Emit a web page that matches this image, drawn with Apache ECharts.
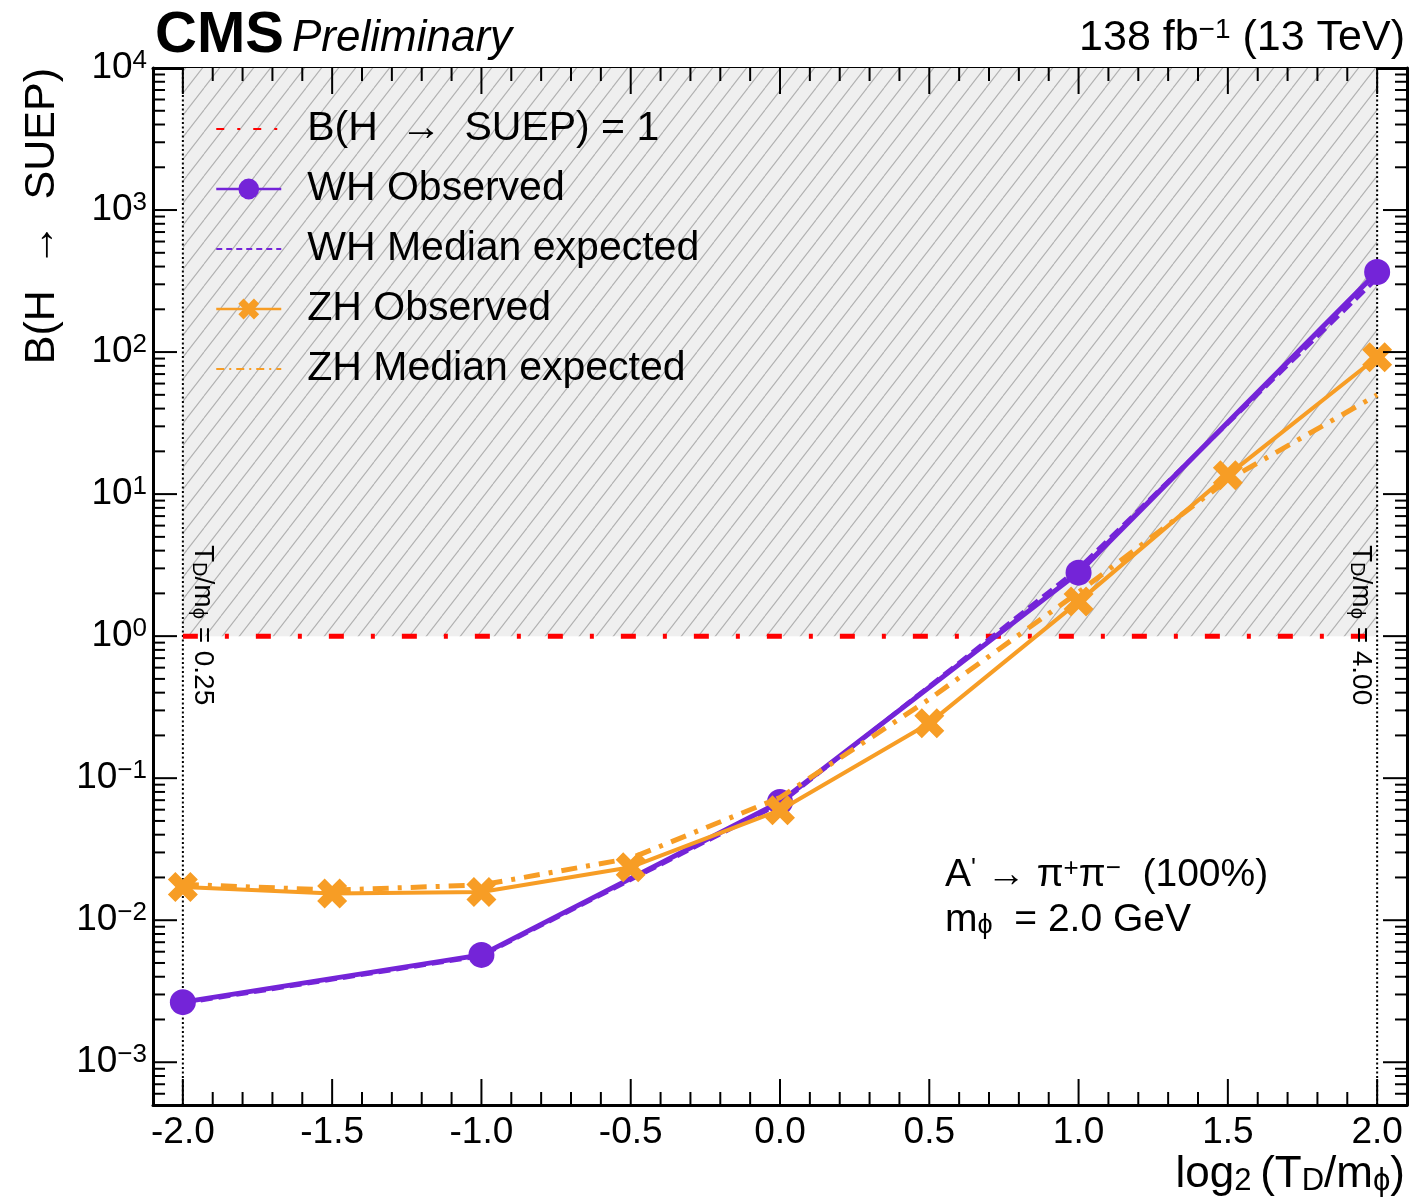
<!DOCTYPE html>
<html><head><meta charset="utf-8">
<script src="https://cdn.jsdelivr.net/npm/echarts@6/dist/echarts.min.js"></script>
<style>html,body{margin:0;padding:0;background:#fff}#c{width:1409px;height:1202px}</style>
</head><body><div id="c"></div>
<script>
// ---------------- data ----------------
const seriesNames = ['B(H  \u2192  SUEP) = 1', 'WH Observed', 'WH Median expected', 'ZH Observed', 'ZH Median expected'];
const xWH = [-2.0, -1.0, 0.0, 1.0, 2.0];
const whObserved = [0.00265, 0.0057, 0.068, 2.8, 366];
const whExpected = [0.0026, 0.0056, 0.066, 3.0, 330];
const xZH = [-2.0, -1.5, -1.0, -0.5, 0.0, 0.5, 1.0, 1.5, 2.0];
const zhObserved = [0.0171, 0.0154, 0.0158, 0.0236, 0.0595, 0.244, 1.75, 13.6, 92];
const zhExpected = [0.0179, 0.0163, 0.0177, 0.0273, 0.073, 0.36, 2.04, 12.6, 50];
const unitLineX = [-2.0, 2.0];
const unitLineY = [1, 1];
const excludedBand = [[-2.0, 2.0, 1, 10000]];   // x0, x1, y0, y1
const boundaryX = [-2.0, 2.0];
const xTickLabels = [-2.0, -1.5, -1.0, -0.5, 0.0, 0.5, 1.0, 1.5, 2.0];
const yTickExponents = [-3, -2, -1, 0, 1, 2, 3, 4];
const xRange = [-2.1, 2.1];
const yRange = [5e-4, 1e4];

// ---------------- style ----------------
const FONT = '"Liberation Sans", Arial, Helvetica, sans-serif';
const PURPLE = '#7424d8';
const ORANGE = '#f79d25';
const XMARK = 'path://M0,2.5 L2.5,0 L5,2.5 L7.5,0 L10,2.5 L7.5,5 L10,7.5 L7.5,10 L5,7.5 L2.5,10 L0,7.5 L2.5,5 Z';
const HIDDEN = { color: 'rgba(0,0,0,0)', opacity: 0, borderWidth: 0 };

const hatch = (function () {
  const w = 17, h = 22;
  const c = document.createElement('canvas'); c.width = w; c.height = h;
  const g = c.getContext('2d');
  g.fillStyle = '#efefef'; g.fillRect(0, 0, w, h);
  g.strokeStyle = '#b0b0b0'; g.lineWidth = 1.1;
  for (let k = -1; k <= 1; k++) { g.beginPath(); g.moveTo(k * w, h); g.lineTo(k * w + w, 0); g.stroke(); }
  return c;
})();

// tick positions (derived from tick labels)
const xTicks = [];
for (let i = Math.round(xRange[0] * 10); i <= Math.round(xRange[1] * 10); i++) {
  const v = i / 10;
  xTicks.push({ v: v, major: xTickLabels.some(t => Math.abs(t - v) < 1e-9) });
}
const yTicks = [];
for (let e = yTickExponents[0] - 1; e <= yTickExponents[yTickExponents.length - 1]; e++) {
  for (let k = 1; k <= 9; k++) {
    const v = k * Math.pow(10, e);
    if (v >= yRange[0] * 0.999 && v <= yRange[1] * 1.001) yTicks.push({ v: v, major: k === 1 });
  }
}

const chart = echarts.init(document.getElementById('c'), null, { renderer: 'canvas' });

function pairs(xs, ys) { return xs.map((x, i) => [x, ys[i]]); }

const option = {
  animation: false,
  backgroundColor: '#fff',
  grid: { left: 153, top: 68, width: 1254, height: 1037, containLabel: false, outerBoundsMode: 'none' },
  xAxis: [
    {
      type: 'value', min: xRange[0], max: xRange[1], interval: 0.1, position: 'bottom',
      axisLine: { onZero: false, lineStyle: { color: '#000', width: 3 } },
      axisTick: { show: false }, splitLine: { show: false },
      axisLabel: {
        margin: 9, fontSize: 37, fontFamily: FONT, color: '#000',
        formatter: function (v) {
          const ok = xTickLabels.some(t => Math.abs(t - v) < 1e-6);
          return ok ? Number(v).toFixed(1) : '';
        }
      }
    },
    {
      type: 'value', min: xRange[0], max: xRange[1], interval: 0.1, position: 'top',
      axisLine: { onZero: false, lineStyle: { color: '#000', width: 3 } },
      axisTick: { show: false }, splitLine: { show: false }, axisLabel: { show: false }
    }
  ],
  yAxis: [
    {
      type: 'log', logBase: 10, min: yRange[0], max: yRange[1], position: 'left',
      axisLine: { onZero: false, lineStyle: { color: '#000', width: 3 } },
      axisTick: { show: false }, splitLine: { show: false }, minorTick: { show: false },
      axisLabel: {
        margin: 6, fontFamily: FONT, color: '#000',
        formatter: function (v) {
          const e = Math.log10(v); const r = Math.round(e);
          if (Math.abs(e - r) > 1e-6 || yTickExponents.indexOf(r) < 0) return '';
          return '{b|10}{s|' + (r < 0 ? '\u2212' + (-r) : String(r)) + '}';
        },
        rich: {
          b: { fontSize: 37, fontFamily: FONT, color: '#000', lineHeight: 40 },
          s: { fontSize: 26, fontFamily: FONT, color: '#000', lineHeight: 20, verticalAlign: 'top' }
        }
      }
    },
    {
      type: 'log', logBase: 10, min: yRange[0], max: yRange[1], position: 'right',
      axisLine: { onZero: false, lineStyle: { color: '#000', width: 3 } },
      axisTick: { show: false }, splitLine: { show: false }, axisLabel: { show: false }
    }
  ],
  legend: {
    orient: 'vertical', left: 210, top: 102, itemWidth: 65, itemHeight: 26, itemGap: 16,
    selectedMode: false,
    textStyle: { fontSize: 41, fontFamily: FONT, color: '#000', padding: [0, 0, 0, 21], lineHeight: 44 },
    data: [
      { name: seriesNames[0], lineStyle: { width: 2, type: [8, 13, 3, 13] }, itemStyle: HIDDEN },
      { name: seriesNames[1], lineStyle: { width: 2.5 } },
      { name: seriesNames[2], lineStyle: { width: 2, type: [6, 4] }, itemStyle: HIDDEN },
      { name: seriesNames[3], lineStyle: { width: 2.5 } },
      { name: seriesNames[4], lineStyle: { width: 2, type: [8, 5, 2, 5] }, itemStyle: HIDDEN }
    ]
  },
  graphic: [
    { type: 'text', z: 100, x: 155, y: 36, style: { text: 'CMS', font: 'bold 58px ' + FONT, fill: '#000', align: 'left', verticalAlign: 'middle' } },
    { type: 'text', z: 100, x: 292, y: 39, style: { text: 'Preliminary', font: 'italic 44px ' + FONT, fill: '#000', align: 'left', verticalAlign: 'middle' } },
    { type: 'text', z: 100, x: 1405, y: 38, style: {
        text: '138 fb{sup|\u22121} (13 TeV)', font: '43px ' + FONT, fill: '#000', align: 'right', verticalAlign: 'middle',
        rich: { sup: { fontSize: 28, fontFamily: FONT, lineHeight: 16, verticalAlign: 'top', fill: '#000' } } } },
    { type: 'text', z: 100, x: 42, y: 68, rotation: Math.PI / 2, style: {
        text: 'B(H  \u2192  SUEP)', font: '43px ' + FONT, fill: '#000', align: 'right', verticalAlign: 'middle' } },
    { type: 'text', z: 100, x: 1405, y: 1175, style: {
        text: 'log{sub|2}\u2009(T{sub|D}/m{sub|\u03d5})', font: '44px ' + FONT, fill: '#000', align: 'right', verticalAlign: 'middle',
        rich: { sub: { fontSize: 31, fontFamily: FONT, lineHeight: 6, verticalAlign: 'bottom', fill: '#000' } } } },
    { type: 'text', z: 100, x: 945, y: 875, style: {
        text: 'A{sup|\'} \u2192 \u03c0{sup|+}\u03c0{sup|\u2212}  (100%)', font: '39px ' + FONT, fill: '#000', align: 'left', verticalAlign: 'middle',
        rich: { sup: { fontSize: 26, fontFamily: FONT, lineHeight: 20, verticalAlign: 'top', fill: '#000' } } } },
    { type: 'text', z: 100, x: 945, y: 920, style: {
        text: 'm{sub|\u03d5}  = 2.0 GeV', font: '39px ' + FONT, fill: '#000', align: 'left', verticalAlign: 'middle',
        rich: { sub: { fontSize: 27, fontFamily: FONT, lineHeight: 6, verticalAlign: 'bottom', fill: '#000' } } } },
    { type: 'text', z: 100, x: 189, y: 545, rotation: -Math.PI / 2, style: {
        text: 'T{sub|D}/m{sub|\u03d5} = 0.25', font: '28px ' + FONT, fill: '#000', align: 'left', verticalAlign: 'bottom',
        rich: { sub: { fontSize: 20, fontFamily: FONT, lineHeight: 4, verticalAlign: 'bottom', fill: '#000' } } } },
    { type: 'text', z: 100, x: 1347, y: 545, rotation: -Math.PI / 2, style: {
        text: 'T{sub|D}/m{sub|\u03d5} = 4.00', font: '28px ' + FONT, fill: '#000', align: 'left', verticalAlign: 'bottom',
        rich: { sub: { fontSize: 20, fontFamily: FONT, lineHeight: 4, verticalAlign: 'bottom', fill: '#000' } } } }
  ],
  series: [
    {
      name: 'excluded', type: 'custom', coordinateSystem: 'cartesian2d', silent: true, z: 1,
      data: excludedBand, encode: { x: [0, 1], y: [2, 3] },
      renderItem: function (params, api) {
        const p0 = api.coord([api.value(0), api.value(3)]);
        const p1 = api.coord([api.value(1), api.value(2)]);
        return { type: 'rect', shape: { x: p0[0], y: p0[1], width: p1[0] - p0[0], height: p1[1] - p0[1] },
                 style: { fill: { image: hatch, repeat: 'repeat' } } };
      }
    },
    {
      name: 'bounds', type: 'custom', coordinateSystem: 'cartesian2d', silent: true, z: 2,
      data: boundaryX.map(v => [v, 1]), encode: { x: 0, y: 1 },
      renderItem: function (params, api) {
        const cs = params.coordSys;
        const px = api.coord([api.value(0), 1])[0];
        return { type: 'line', shape: { x1: px, y1: cs.y, x2: px, y2: cs.y + cs.height },
                 style: { stroke: '#000', lineWidth: 2, lineDash: [2, 2.5] } };
      }
    },
    {
      name: seriesNames[0], type: 'line', data: pairs(unitLineX, unitLineY), symbol: 'none', z: 3,
      lineStyle: { color: '#ff0000', width: 5, type: [15, 27, 4, 27], cap: 'butt' },
      itemStyle: { color: '#ff0000' }
    },
    {
      name: seriesNames[1], type: 'line', data: pairs(xWH, whObserved), symbol: 'circle', symbolSize: 26, z: 4,
      lineStyle: { color: PURPLE, width: 5 }, itemStyle: { color: PURPLE }
    },
    {
      name: seriesNames[2], type: 'line', data: pairs(xWH, whExpected), symbol: 'none', z: 4,
      lineStyle: { color: PURPLE, width: 4, type: [12, 6] }, itemStyle: { color: PURPLE }
    },
    {
      name: seriesNames[3], type: 'line', data: pairs(xZH, zhObserved), symbol: XMARK, symbolSize: 30, z: 5,
      lineStyle: { color: ORANGE, width: 4 }, itemStyle: { color: ORANGE }
    },
    {
      name: seriesNames[4], type: 'line', data: pairs(xZH, zhExpected), symbol: 'none', z: 5,
      lineStyle: { color: ORANGE, width: 5, type: [16, 9, 4, 9] }, itemStyle: { color: ORANGE }
    },
    {
      name: 'frameTicks', type: 'custom', coordinateSystem: 'cartesian2d', silent: true, z: 10,
      data: [[0, 1]], encode: { x: 0, y: 1 },
      renderItem: function (params, api) {
        const cs = params.coordSys;
        const top = cs.y, bottom = cs.y + cs.height, left = cs.x, right = cs.x + cs.width;
        const st = { stroke: '#000', lineWidth: 2 };
        const ch = [];
        xTicks.forEach(t => {
          const px = api.coord([t.v, 1])[0];
          const L = t.major ? 26 : 13;
          ch.push({ type: 'line', shape: { x1: px, y1: bottom, x2: px, y2: bottom - L }, style: st });
          ch.push({ type: 'line', shape: { x1: px, y1: top, x2: px, y2: top + L }, style: st });
        });
        yTicks.forEach(t => {
          const py = api.coord([0, t.v])[1];
          const L = t.major ? 24 : 12;
          ch.push({ type: 'line', shape: { x1: left, y1: py, x2: left + L, y2: py }, style: st });
          ch.push({ type: 'line', shape: { x1: right, y1: py, x2: right - L, y2: py }, style: st });
        });
        return { type: 'group', children: ch };
      }
    }
  ]
};
chart.setOption(option);
</script></body></html>
